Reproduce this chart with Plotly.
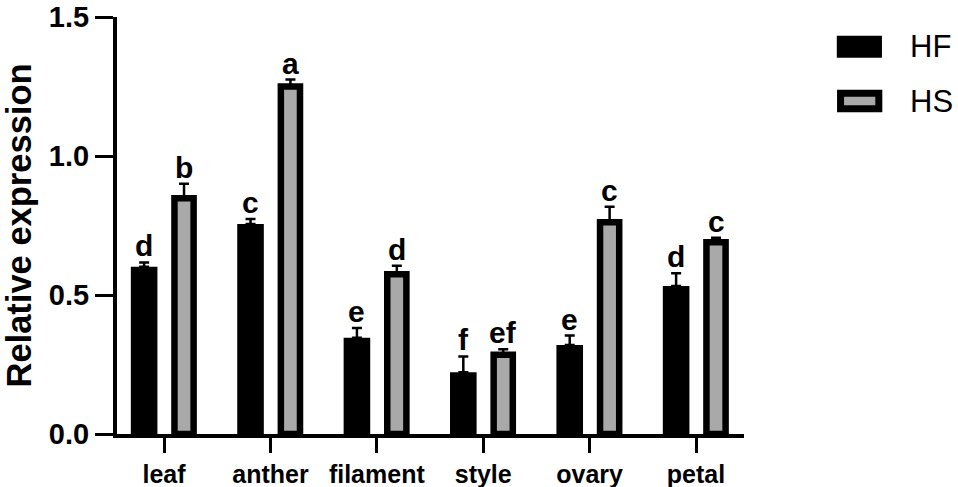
import numpy as np
import plotly.graph_objects as go

categories = ["leaf", "anther", "filament", "style", "ovary", "petal"]
hf_values = [0.602, 0.755, 0.346, 0.222, 0.320, 0.532]
hf_err = [0.015, 0.018, 0.035, 0.057, 0.034, 0.046]
hs_values = [0.848, 1.250, 0.575, 0.285, 0.762, 0.690]
hs_err = [0.052, 0.025, 0.030, 0.020, 0.055, 0.016]
hf_letters = ["d", "c", "e", "f", "e", "d"]
hs_letters = ["b", "a", "d", "ef", "c", "c"]
series_names = ["HF", "HS"]
y_ticks = [0.0, 0.5, 1.0, 1.5]

FONT = "Arial, Liberation Sans, Helvetica, sans-serif"
GRAY = "#a9a9a9"
pos = np.arange(len(categories))
HF_C, HS_C = -0.187, 0.188
HF_W, HS_W = 0.25, 0.18

fig = go.Figure()
fig.add_trace(go.Bar(
    x=pos, y=hf_values, name=series_names[0],
    offset=HF_C - HF_W / 2, width=HF_W,
    marker=dict(color="black", line=dict(width=0)),
    error_y=dict(type="data", symmetric=False, array=hf_err,
                 arrayminus=[0] * len(hf_err), color="black",
                 thickness=2.5, width=5),
    showlegend=False,
))
fig.add_trace(go.Bar(
    x=pos, y=hs_values, name=series_names[1],
    offset=HS_C - HS_W / 2, width=HS_W,
    marker=dict(color=GRAY, line=dict(width=6.5, color="black")),
    error_y=dict(type="data", symmetric=False, array=hs_err,
                 arrayminus=[0] * len(hs_err), color="black",
                 thickness=2.5, width=5),
    showlegend=False,
))

LETTER_FONT = dict(family=FONT, size=30, color="black", weight="bold")
annotations = []
for i in range(len(categories)):
    annotations.append(dict(x=pos[i] + HF_C, y=hf_values[i] + hf_err[i],
                            text=hf_letters[i], showarrow=False,
                            xref="x", yref="y", yanchor="bottom", yshift=-2,
                            font=LETTER_FONT))
    annotations.append(dict(x=pos[i] + HS_C, y=hs_values[i] + hs_err[i],
                            text=hs_letters[i], showarrow=False,
                            xref="x", yref="y", yanchor="bottom", yshift=-2,
                            font=LETTER_FONT))

# manual legend (positions in paper fractions of the plot area)
shapes = [
    dict(type="rect", xref="paper", yref="paper",
         x0=1.148, x1=1.220, y0=0.902, y1=0.955,
         fillcolor="black", line=dict(width=0)),
    dict(type="rect", xref="paper", yref="paper",
         x0=1.154, x1=1.215, y0=0.780, y1=0.817,
         fillcolor=GRAY, line=dict(width=7, color="black")),
]
annotations.append(dict(x=1.2616, y=0.930, xref="paper", yref="paper",
                        text=series_names[0], showarrow=False,
                        xanchor="left", yanchor="middle",
                        font=dict(family=FONT, size=31, color="black")))
annotations.append(dict(x=1.2616, y=0.798, xref="paper", yref="paper",
                        text=series_names[1], showarrow=False,
                        xanchor="left", yanchor="middle",
                        font=dict(family=FONT, size=31, color="black")))

fig.update_layout(
    width=958, height=487,
    margin=dict(l=117, r=214, t=17, b=53, autoexpand=False),
    paper_bgcolor="white", plot_bgcolor="white",
    barmode="overlay",
    annotations=annotations, shapes=shapes,
    showlegend=False,
)
fig.update_xaxes(
    range=[-0.442, 5.451], tickmode="array", tickvals=pos, ticktext=categories,
    showline=True, linecolor="black", linewidth=4,
    ticks="outside", ticklen=15, tickwidth=3, tickcolor="black",
    showgrid=False, zeroline=False,
    tickfont=dict(family=FONT, size=25, color="black", weight="bold"),
)
fig.update_yaxes(
    range=[0, 1.5], tickmode="array", tickvals=y_ticks, tickformat=".1f",
    showline=True, linecolor="black", linewidth=4,
    ticks="outside", ticklen=18, tickwidth=3, tickcolor="black",
    showgrid=False, zeroline=False,
    tickfont=dict(family=FONT, size=29, color="black", weight="bold"),
    title=dict(text="Relative expression", standoff=10,
               font=dict(family=FONT, size=34.5, color="black", weight="bold")),
)

fig.write_html("out.html", config={"displayModeBar": False},
               post_script="document.body.style.margin='0';document.body.style.padding='0';")
